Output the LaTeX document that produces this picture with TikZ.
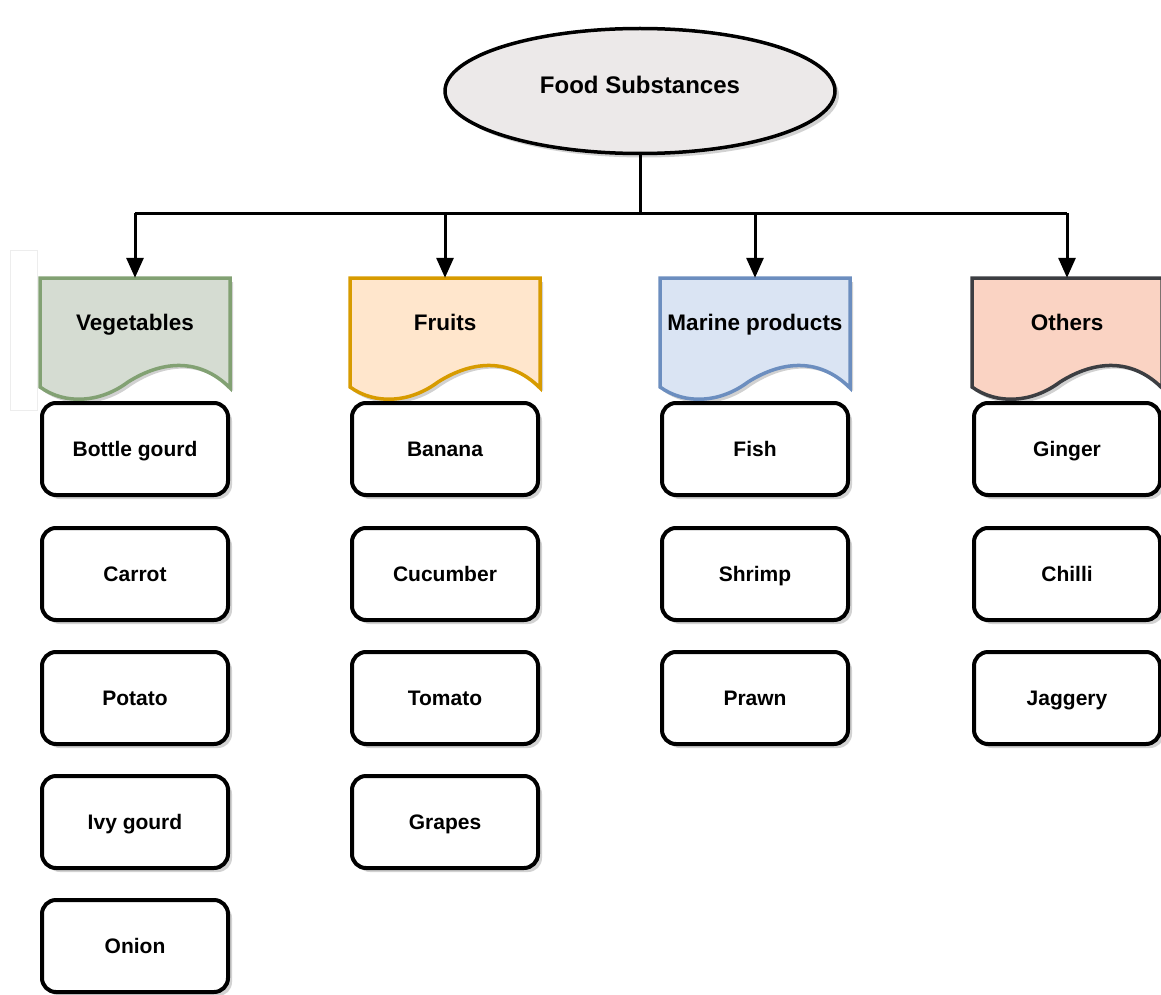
\documentclass[tikz,border=0pt]{standalone}
\usepackage{fontspec}
\setmainfont{Liberation Sans}
\usetikzlibrary{shapes.geometric,arrows.meta,shadows}
\definecolor{vegfill}{RGB}{213,220,210}
\definecolor{vegdraw}{RGB}{130,161,115}
\definecolor{frfill}{RGB}{255,230,204}
\definecolor{frdraw}{RGB}{215,155,0}
\definecolor{mafill}{RGB}{218,228,243}
\definecolor{madraw}{RGB}{108,142,191}
\definecolor{otfill}{RGB}{250,211,195}
\definecolor{otdraw}{RGB}{60,62,66}
\definecolor{elfill}{RGB}{236,233,233}
\newcommand\docshape[3]{%
  \fill[black!30,opacity=0.6] (#1-92,282) -- (#1+98,282) -- (#1+98,391)
     .. controls (#1+68,361) and (#1+31,363) .. (#1-4,386)
     .. controls (#1-32,407) and (#1-67,409) .. (#1-92,391) -- cycle;
  \draw[line width=3.5pt,fill=#2,draw=#3,line join=miter] (#1-95,278) -- (#1+95,278) -- (#1+95,388)
     .. controls (#1+65,358) and (#1+28,360) .. (#1-7,382)
     .. controls (#1-35,403) and (#1-70,405) .. (#1-95,387) -- cycle;}
\begin{document}
\begin{tikzpicture}[x=1pt,y=-1pt,
  title/.style={ellipse,draw=black,line width=3.5pt,fill=elfill,minimum width=390pt,minimum height=125pt,
    text height=17pt,text depth=12pt,
    font=\bfseries\fontsize{24}{28}\selectfont,drop shadow={shadow xshift=4pt,shadow yshift=-4pt,fill=black!35}},
  hdr/.style={inner sep=0pt,minimum width=190pt,minimum height=88pt,text height=16pt,text depth=0pt,
    font=\bfseries\fontsize{22.5}{26}\selectfont},
  item/.style={draw=black,line width=4pt,fill=white,rounded corners=14pt,minimum width=186pt,minimum height=92pt,
    text height=15pt,text depth=0pt,
    font=\bfseries\fontsize{21}{25}\selectfont,drop shadow={shadow xshift=4pt,shadow yshift=-4pt,fill=black!35}},
  conn/.style={line width=3pt,draw=black},
  arr/.style={conn,-{Triangle[length=20pt,width=17pt]}}]
\useasboundingbox (0,0) rectangle (1161,995);
\draw[black!7,line width=1pt] (10,250) rectangle (37,410);
\node[title] (fs) at (640,91) {Food Substances};
\docshape{135}{vegfill}{vegdraw}
\docshape{445}{frfill}{frdraw}
\docshape{755}{mafill}{madraw}
\docshape{1067}{otfill}{otdraw}
\node[hdr] (veg) at (135,322) {Vegetables};
\node[hdr] (fru) at (445,322) {Fruits};
\node[hdr] (mar) at (755,322) {Marine products};
\node[hdr] (oth) at (1067,322) {Others};
\coordinate (j1) at (135,213);
\coordinate (j2) at (445,213);
\coordinate (j3) at (755,213);
\coordinate (j4) at (1067,213);
\coordinate (j0) at (fs.south |- j1);
\draw[conn] (fs.south) -- (j0);
\draw[conn] (j1) -- (j4);
\draw[arr] (j1) -- (veg.north);
\draw[arr] (j2) -- (fru.north);
\draw[arr] (j3) -- (mar.north);
\draw[arr] (j4) -- (oth.north);
\node[item] (v1) at (135,449) {Bottle gourd};
\node[item] (v2) at (135,574) {Carrot};
\node[item] (v3) at (135,698) {Potato};
\node[item] (v4) at (135,822) {Ivy gourd};
\node[item] (v5) at (135,946) {Onion};
\node[item] (f1) at (445,449) {Banana};
\node[item] (f2) at (445,574) {Cucumber};
\node[item] (f3) at (445,698) {Tomato};
\node[item] (f4) at (445,822) {Grapes};
\node[item] (m1) at (755,449) {Fish};
\node[item] (m2) at (755,574) {Shrimp};
\node[item] (m3) at (755,698) {Prawn};
\node[item] (o1) at (1067,449) {Ginger};
\node[item] (o2) at (1067,574) {Chilli};
\node[item] (o3) at (1067,698) {Jaggery};
\end{tikzpicture}
\end{document}
